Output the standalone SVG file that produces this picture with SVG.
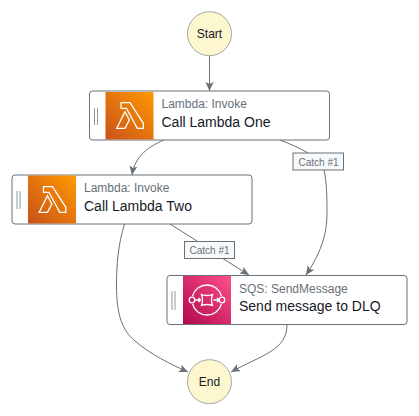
<svg xmlns="http://www.w3.org/2000/svg" width="419" height="416" viewBox="0 0 419 416">
<style>
text{font-family:"Liberation Sans",Arial,sans-serif}
.term{fill:#fdf7cf;stroke:#a5a89f;stroke-width:1}
.tt{font-size:12px;fill:#16191f;text-anchor:middle}
.box{fill:#fff;stroke:#687078;stroke-width:1}
.sub{font-size:12px;fill:#687078}
.name{font-size:14px;fill:#16191f}
.grip{fill:none;stroke:#8d989f;stroke-width:1}
.ic{fill:none;stroke:#fff;stroke-width:1.300}
.edge{fill:none;stroke:#687078;stroke-width:1}
.lab{fill:#f8f9fa;stroke:#687078;stroke-width:1}
.lt{font-size:10px;fill:#687078;text-anchor:middle}
</style>
<defs>
<marker id="arrow" markerUnits="userSpaceOnUse" markerWidth="10" markerHeight="10" refX="9" refY="4" orient="auto"><path d="M0 0L9 4L0 8L2 4Z" fill="#687078"/></marker>
<linearGradient id="lam" x1="0" y1="1" x2="1" y2="0"><stop offset="0" stop-color="#c8511b"/><stop offset="1" stop-color="#ff9900"/></linearGradient>
<linearGradient id="sqs" x1="0" y1="1" x2="1" y2="0"><stop offset="0" stop-color="#b0084d"/><stop offset="1" stop-color="#ff4f8b"/></linearGradient>
<g id="lambdaIcon"><path class="ic" d="M15.500 10.700H24.500L37.800 31.300V36.300H31.800L21 16.300H15.500Z M19.500 19.700L23.800 28L19.500 36.300H11.200Z"/></g>
<g id="sqsIcon"><path class="ic" d="M9.540 20A15 15 0 0 1 38.460 20M38.460 28A15 15 0 0 1 9.540 28"/><path class="ic" d="M18.500 18.500Q24 20.500 29.500 18.500Q27.500 24 29.500 29.500Q24 27.500 18.500 29.500Q20.500 24 18.500 18.500Z"/><circle class="ic" cx="9" cy="24" r="2.800"/><circle class="ic" cx="39" cy="24" r="2.800"/><path class="ic" d="M12 24H17.500M15.500 22L17.500 24L15.500 26M30.500 24H36M34 22L36 24L34 26"/></g>
</defs>
<g id="connectors">
<path class="edge" d="M209.500 56V91" marker-end="url(#arrow)"/>
<path class="edge" d="M164 140C150 146 135 155 132 175" marker-end="url(#arrow)"/>
<path class="edge" d="M280 140C290 144 300 148 308 153M324 170C327 183 327 200 327 215C327 240 316 260 306 275" marker-end="url(#arrow)"/>
<path class="edge" d="M124.500 224C118 245 116.500 265 116.500 285C116.500 315 122 330 135 341C150 354 170 364 188 372" marker-end="url(#arrow)"/>
<path class="edge" d="M170 224L197 241M222 258L249 275" marker-end="url(#arrow)"/>
<path class="edge" d="M287 325C287 350 262 355 231 372" marker-end="url(#arrow)"/>
</g>
<g id="start"><circle class="term" cx="209.500" cy="33.700" r="22"/><text class="tt" x="209.500" y="38">Start</text></g>
<g id="call-lambda-one"><rect class="box" x="89.500" y="91" width="240" height="49" rx="3"/><path class="grip" d="M94.500 108V125M97.500 108V125"/><rect x="105.500" y="92" width="48" height="47.500" fill="url(#lam)"/><use href="#lambdaIcon" x="105.500" y="92"/><text class="sub" x="161.500" y="108">Lambda: Invoke</text><text class="name" x="161.500" y="127">Call Lambda One</text></g>
<g id="call-lambda-two"><rect class="box" x="12" y="175" width="240" height="49" rx="3"/><path class="grip" d="M17 191V209M20 191V209"/><rect x="28" y="175.500" width="48" height="48" fill="url(#lam)"/><use href="#lambdaIcon" x="28" y="176"/><text class="sub" x="84" y="192">Lambda: Invoke</text><text class="name" x="84" y="211">Call Lambda Two</text></g>
<g id="send-to-dlq"><rect class="box" x="167" y="275.500" width="240" height="49" rx="3"/><path class="grip" d="M172 291V310M175 291V310"/><rect x="183" y="276" width="48" height="48" fill="url(#sqs)"/><use href="#sqsIcon" x="183" y="276"/><text class="sub" x="239" y="293">SQS: SendMessage</text><text class="name" x="239" y="311">Send message to DLQ</text></g>
<g id="catch-1"><rect class="lab" x="293" y="153" width="50.500" height="17"/><text class="lt" x="318.500" y="166">Catch #1</text></g>
<g id="catch-2"><rect class="lab" x="184.500" y="241.500" width="50" height="17"/><text class="lt" x="209.500" y="254">Catch #1</text></g>
<g id="end"><circle class="term" cx="209.500" cy="381.700" r="22"/><text class="tt" x="209.500" y="386">End</text></g>
</svg>
